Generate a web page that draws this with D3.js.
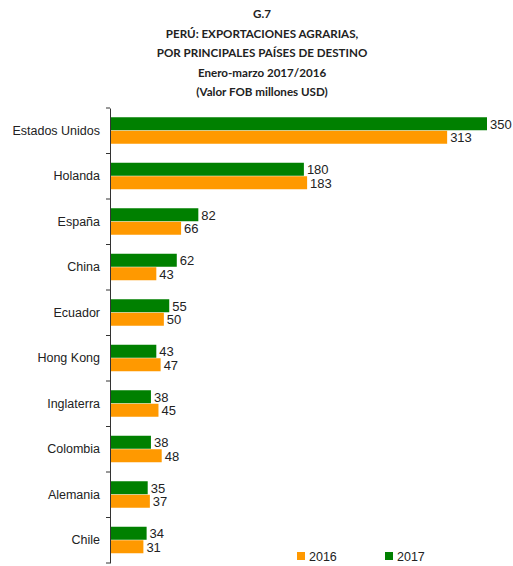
<!DOCTYPE html>
<html>
<head>
<meta charset="utf-8">
<script src="https://cdn.jsdelivr.net/npm/d3@7"></script>
<style>
  body { margin: 0; background: #fff; }
  svg text { fill: #222; }
</style>
</head>
<body>
<div id="chart"></div>
<script>
const countries = ["Estados Unidos", "Holanda", "España", "China", "Ecuador", "Hong Kong", "Inglaterra", "Colombia", "Alemania", "Chile"];
const values2017 = [350, 180, 82, 62, 55, 43, 38, 38, 35, 34];
const values2016 = [313, 183, 66, 43, 50, 47, 45, 48, 37, 31];
const seriesNames = ["2016", "2017"];
const titleLines = ["G.7", "PERÚ: EXPORTACIONES AGRARIAS,", "POR PRINCIPALES PAÍSES DE DESTINO", "Enero-marzo 2017/2016", "(Valor FOB millones USD)"];

const width = 513, height = 566;
const margin = { top: 108, left: 110, right: 26, bottom: 3 };
const colors = { "2016": "#ff9900", "2017": "#008000" };

const svg = d3.select("#chart").append("svg")
    .attr("width", width)
    .attr("height", height);

// title
svg.append("g").selectAll("text")
    .data(titleLines)
    .enter().append("text")
    .attr("x", 262)
    .attr("y", (d, i) => 18 + i * 19.6)
    .attr("text-anchor", "middle")
    .style("font-family", "Lato, 'Open Sans', sans-serif")
    .style("font-weight", "bold")
    .style("font-size", "11.6px")
    .text(d => d);

const x = d3.scaleLinear()
    .domain([0, 350])
    .range([margin.left, 487]);

const y = d3.scaleBand()
    .domain(countries)
    .range([margin.top, height - margin.bottom]);

const inner = d3.scaleBand()
    .domain(["2017", "2016"])
    .range([0, 27])
    .padding(0);

const rows = countries.map((c, i) => ({ country: c, "2017": values2017[i], "2016": values2016[i] }));

const groups = svg.append("g").selectAll("g")
    .data(rows)
    .enter().append("g")
    .attr("transform", d => `translate(0, ${y(d.country) + (y.bandwidth() - 27) / 2})`);

["2017", "2016"].forEach(s => {
    groups.append("rect")
        .attr("x", x(0))
        .attr("y", inner(s))
        .attr("width", d => x(d[s]) - x(0))
        .attr("height", inner.bandwidth() - 0.5)
        .attr("fill", colors[s]);

    groups.append("text")
        .attr("x", d => x(d[s]) + 3)
        .attr("y", inner(s) + inner.bandwidth() / 2)
        .attr("dy", "0.36em")
        .style("font-family", "'Liberation Sans', Arial, sans-serif")
        .style("font-size", "13px")
        .text(d => d[s]);
});

// category axis
const axis = svg.append("g")
    .attr("transform", `translate(${margin.left}, 0)`)
    .call(d3.axisLeft(y).tickSize(0).tickPadding(10));
axis.select(".domain").attr("stroke", "#333");
axis.selectAll("text")
    .style("font-family", "'Liberation Sans', Arial, sans-serif")
    .style("font-size", "12.5px")
    .style("fill", "#222");

// ticks between categories
const boundaries = countries.map(c => y(c)).concat([y.range()[1]]);
svg.append("g").selectAll("line")
    .data(boundaries)
    .enter().append("line")
    .attr("x1", margin.left - 4)
    .attr("x2", margin.left)
    .attr("y1", d => d)
    .attr("y2", d => d)
    .attr("stroke", "#333");

// legend
const legend = svg.append("g").selectAll("g")
    .data(seriesNames)
    .enter().append("g")
    .attr("transform", (d, i) => `translate(${297 + i * 88}, 556)`);
legend.append("rect")
    .attr("width", 8)
    .attr("height", 8)
    .attr("y", -4)
    .attr("fill", d => colors[d]);
legend.append("text")
    .attr("x", 12)
    .attr("dy", "0.36em")
    .style("font-family", "'Liberation Sans', Arial, sans-serif")
    .style("font-size", "12.5px")
    .text(d => d);
</script>
</body>
</html>
